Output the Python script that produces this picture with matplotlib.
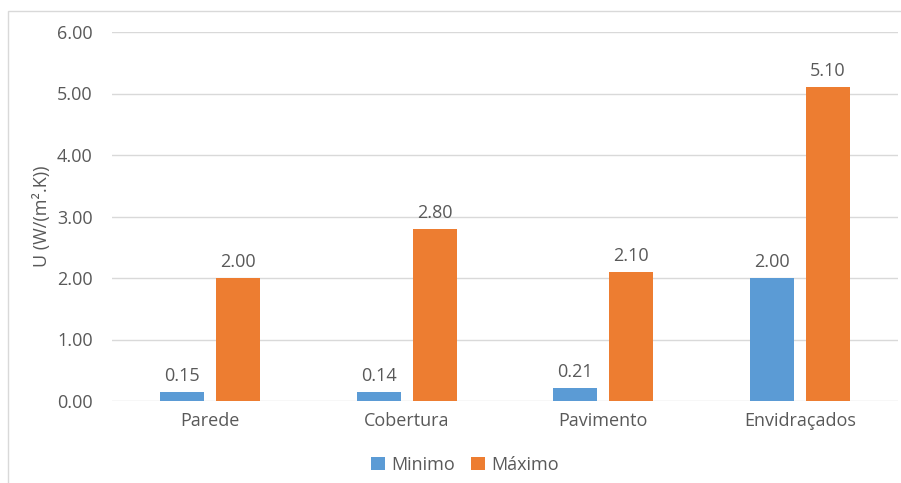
import matplotlib

matplotlib.use("Agg")
import matplotlib.pyplot as plt
import numpy as np
from matplotlib.patches import Rectangle

categories = ["Parede", "Cobertura", "Pavimento", "Envidraçados"]
minimo = [0.15, 0.14, 0.21, 2.00]
maximo = [2.00, 2.80, 2.10, 5.10]
series_names = ["Minimo", "Máximo"]

BLUE = "#5B9BD5"
ORANGE = "#ED7D31"
TEXT = "#595959"
GRID = "#D9D9D9"
FS = 13

plt.rcParams["font.family"] = ["Open Sans", "DejaVu Sans"]
plt.rcParams["font.size"] = FS

fig = plt.figure(figsize=(9.01, 4.83), dpi=100)
ax = fig.add_axes([112 / 901, 82 / 483, 786 / 901, 369 / 483])

# light frame around the chart area
fig.patches.append(
    Rectangle((8 / 901, -0.1), 1.0, (483 - 11) / 483 + 0.1,
              transform=fig.transFigure, fill=False, edgecolor=GRID, lw=1.0)
)

x = np.arange(len(categories))
w = 0.224
off = 0.143
b1 = ax.bar(x - off, minimo, w, color=BLUE, label=series_names[0], zorder=3)
b2 = ax.bar(x + off, maximo, w, color=ORANGE, label=series_names[1], zorder=3)

for bars, vals in ((b1, minimo), (b2, maximo)):
    for bar, v in zip(bars, vals):
        ax.annotate(f"{v:.2f}", (bar.get_x() + bar.get_width() / 2, v),
                    xytext=(0, 5), textcoords="offset points",
                    ha="center", va="bottom", color=TEXT, fontsize=FS)

ax.set_xlim(-0.5, len(categories) - 0.5)
ax.set_ylim(0, 6)
ax.set_yticks(np.arange(0, 7, 1))
ax.set_yticklabels([f"{t:.2f}" for t in range(7)])
ax.set_xticks(x)
ax.set_xticklabels(categories)
ax.tick_params(axis="both", length=0, colors=TEXT, labelsize=FS)
ax.tick_params(axis="x", pad=8)
ax.tick_params(axis="y", pad=14)
ax.grid(axis="y", color=GRID, lw=1.0, zorder=0)
for s in ax.spines.values():
    s.set_visible(False)

ax.set_ylabel("U (W/(m².K))", color=TEXT, fontsize=FS, labelpad=4)

leg = fig.legend(loc="center", bbox_to_anchor=(465 / 901, 18 / 483), ncol=2,
                 frameon=False, handlelength=0.75, handleheight=0.75,
                 handletextpad=0.35, columnspacing=0.9, fontsize=FS)
for t in leg.get_texts():
    t.set_color(TEXT)

fig.savefig("out.png", dpi=100)
